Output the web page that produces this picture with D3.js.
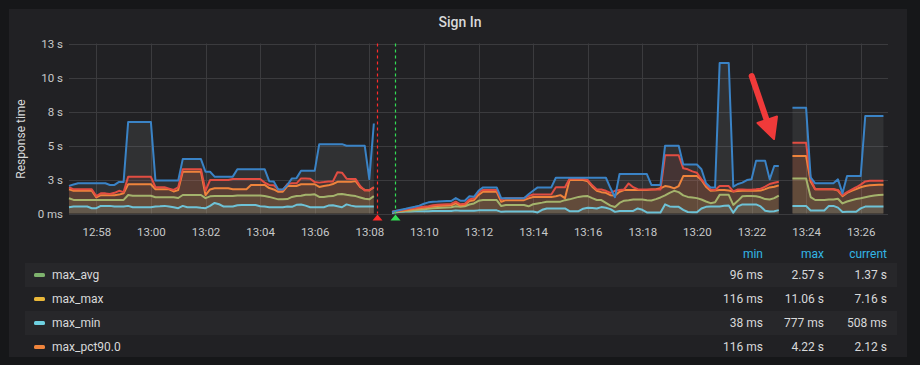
<!DOCTYPE html>
<html><head><meta charset="utf-8">
<script src="https://cdn.jsdelivr.net/npm/d3@7"></script>
<style>
html,body{margin:0;padding:0;background:#161719;}
svg{display:block;font-family:Roboto,"Noto Sans",sans-serif;}
</style></head><body>
<svg id="chart" width="920" height="365"></svg>
<script>
// ---------- data ----------
const title = "Sign In";
const yAxisLabel = "Response time";
const startTime = [12, 57, 0];      // first sample (hh, mm, ss)
const endTime = [13, 27, 0];        // right edge of the time axis
const stepSeconds = 10;             // sample spacing
const yTickValues = [0, 2.5, 5, 7.5, 10, 12.5];
const yTickLabels = ["0 ms", "3 s", "5 s", "8 s", "10 s", "13 s"];
const annotationTimes = [[13, 8, 18], [13, 8, 56]];

const maxMax = [2.03,2.13,2.22,2.22,2.22,2.22,2.22,2.22,2.22,2.1,
 2.1,2.32,2.32,6.72,6.72,6.72,6.72,6.72,6.72,2.42,
 2.42,2.42,2.42,2.42,2.42,4.0,4.0,4.0,4.0,4.0,
 3.07,3.07,2.71,2.71,2.71,2.71,2.71,3.26,3.26,3.26,
 3.26,3.26,3.26,3.26,2.38,2.36,1.77,1.77,2.1,2.58,
 2.6,3.14,3.14,3.14,3.14,5.1,5.1,5.1,5.1,5.1,
 5.1,4.98,4.98,4.98,4.98,4.98,2.53,6.62,null,null,
 null,0.116,0.2,0.28,0.35,0.43,0.5,0.58,0.72,0.82,
 0.87,0.88,0.9,0.92,0.92,1.13,0.94,0.94,1.27,1.23,
 1.67,1.92,1.92,1.92,1.92,1.12,1.12,1.12,1.12,1.12,
 1.12,1.42,1.67,1.92,1.92,1.92,1.92,2.63,2.63,2.63,
 2.63,2.63,2.63,2.63,2.63,2.63,2.63,2.63,2.63,1.87,
 1.2,2.9,2.9,2.9,2.9,2.9,2.9,2.9,2.1,2.1,
 2.1,4.98,4.98,4.98,4.98,3.6,3.6,3.6,3.6,3.25,
 2.22,1.92,1.92,11.06,11.06,11.06,1.97,2.17,2.27,2.46,
 2.51,3.87,3.87,3.87,2.51,3.49,3.49,null,null,7.77,
 7.77,7.77,7.77,2.66,2.22,2.22,2.22,2.22,2.22,2.51,
 1.48,2.76,2.76,2.76,2.76,7.16,7.16,7.16,7.16,7.16];

const maxUpper = [1.93,1.78,1.78,1.78,1.78,1.78,1.28,1.48,1.48,1.43,
 1.52,1.67,1.57,2.7,2.7,2.7,2.7,2.7,2.7,1.93,
 1.93,1.93,1.83,1.73,1.93,3.26,3.26,3.26,3.26,3.26,
 1.67,2.46,2.46,2.46,2.46,2.46,2.54,2.54,2.54,2.54,
 2.54,2.54,2.54,2.27,2.1,2.07,1.77,1.73,2.17,2.22,
 2.22,2.58,2.58,2.56,2.31,2.27,2.31,2.36,2.36,3.03,
 3.0,2.56,2.53,2.53,2.02,1.69,1.72,1.93,null,null,
 null,0.13,0.2,0.24,0.3,0.36,0.4,0.46,0.5,0.54,
 0.6,0.64,0.66,0.68,0.7,0.87,0.68,0.72,1.03,1.12,
 1.57,1.73,1.73,1.73,1.73,1.04,1.12,1.12,1.12,1.12,
 1.12,1.28,1.4,1.4,1.4,1.4,1.4,1.93,1.93,1.93,
 2.56,2.56,2.56,2.56,2.46,2.07,1.77,1.77,1.67,1.52,
 1.67,1.73,1.77,2.21,1.93,1.79,1.77,1.77,1.77,1.77,
 1.77,4.28,4.28,4.28,4.28,3.32,3.25,3.1,3.0,2.51,
 2.12,1.77,1.73,2.02,2.02,2.02,1.62,1.77,1.77,1.75,
 1.75,1.78,1.82,1.97,2.17,2.26,2.33,null,null,5.2,
 5.2,5.2,5.2,2.55,1.78,1.78,1.78,1.78,1.78,1.73,
 1.35,1.57,1.75,1.93,2.12,2.36,2.41,2.41,2.41,2.41];

const maxPct90 = [1.78,1.67,1.67,1.67,1.67,1.67,1.19,1.35,1.35,1.35,
 1.35,1.39,1.49,2.15,2.15,2.15,2.15,2.15,2.15,1.78,
 1.78,1.78,1.78,1.62,1.72,3.07,3.07,3.07,3.07,3.07,
 1.35,1.77,1.85,1.85,1.85,1.85,1.79,1.79,1.79,1.79,
 2.1,2.1,2.1,2.1,1.87,1.77,1.6,1.6,2.02,2.02,
 2.02,2.15,2.15,2.15,2.15,1.95,2.02,2.07,2.17,2.33,
 2.33,2.33,2.33,2.38,1.93,1.73,1.69,1.93,null,null,
 null,0.116,0.17,0.2,0.25,0.29,0.34,0.39,0.43,0.47,
 0.52,0.55,0.57,0.59,0.61,0.75,0.59,0.62,0.92,0.98,
 1.37,1.6,1.6,1.6,1.6,0.86,0.98,0.98,0.98,0.98,
 0.98,1.11,1.21,1.21,1.21,1.21,1.21,1.27,1.35,1.13,
 2.46,2.46,2.46,2.46,2.36,1.97,1.67,1.57,1.52,1.35,
 1.32,1.6,1.73,1.73,1.73,1.73,1.73,1.73,1.77,1.79,
 1.85,2.02,1.97,1.85,2.02,2.75,2.75,2.75,2.75,2.46,
 1.97,1.67,1.69,1.73,1.73,1.69,1.62,1.65,1.67,1.67,
 1.67,1.67,1.69,1.79,1.92,1.97,2.07,null,null,4.22,
 4.22,4.22,4.22,2.35,1.78,1.78,1.78,1.78,1.78,1.69,
 1.27,1.52,1.67,1.79,1.93,2.02,2.07,2.1,2.12,2.12];

const maxAvg = [1.12,1.0,1.0,1.0,1.0,1.0,1.0,1.0,1.0,1.0,
 1.0,1.0,1.0,1.36,1.3,1.3,1.3,1.3,1.3,1.19,
 1.19,1.19,1.19,1.19,1.14,1.36,1.36,1.36,1.36,1.36,
 1.13,1.26,1.28,1.28,1.28,1.28,1.28,1.32,1.32,1.32,
 1.32,1.32,1.32,1.28,1.22,1.13,1.04,1.04,1.06,1.22,
 1.28,1.3,1.38,1.38,1.41,1.22,1.22,1.26,1.28,1.41,
 1.44,1.38,1.33,1.28,1.18,1.08,1.04,1.28,null,null,
 null,0.096,0.12,0.14,0.18,0.21,0.24,0.28,0.32,0.35,
 0.38,0.41,0.43,0.45,0.46,0.53,0.5,0.53,0.66,0.74,
 0.93,0.99,0.99,0.99,0.99,0.55,0.62,0.62,0.62,0.62,
 0.62,0.53,0.68,0.74,0.8,0.87,0.87,0.87,0.87,0.98,
 1.04,1.13,1.22,1.26,1.28,1.13,0.99,0.99,0.78,0.58,
 0.48,0.78,0.94,0.98,1.03,1.03,1.03,0.98,0.96,1.06,
 1.18,1.33,1.52,1.67,1.57,1.33,1.22,1.18,1.13,1.03,
 0.88,0.76,0.83,1.37,1.37,1.37,0.63,0.93,1.27,1.29,
 1.29,1.27,1.19,1.06,1.03,1.13,1.32,null,null,2.57,
 2.57,2.57,2.57,1.21,0.99,1.0,1.0,1.03,1.03,1.08,
 0.74,0.88,0.98,1.06,1.12,1.2,1.27,1.32,1.36,1.37];

const maxMin = [0.46,0.51,0.51,0.51,0.51,0.39,0.39,0.56,0.56,0.56,
 0.51,0.51,0.51,0.56,0.46,0.46,0.46,0.46,0.46,0.51,
 0.53,0.56,0.51,0.46,0.39,0.56,0.46,0.46,0.46,0.42,
 0.39,0.56,0.777,0.68,0.51,0.51,0.51,0.6,0.62,0.62,
 0.62,0.62,0.53,0.51,0.46,0.46,0.46,0.46,0.51,0.49,
 0.64,0.66,0.58,0.46,0.46,0.46,0.46,0.58,0.6,0.53,
 0.46,0.67,0.58,0.51,0.51,0.51,0.51,0.51,null,null,
 null,0.04,0.1,0.12,0.14,0.15,0.16,0.16,0.17,0.17,
 0.18,0.18,0.18,0.18,0.18,0.23,0.2,0.2,0.2,0.2,
 0.23,0.23,0.23,0.23,0.23,0.12,0.15,0.15,0.15,0.15,
 0.15,0.15,0.15,0.08,0.27,0.37,0.37,0.37,0.37,0.37,
 0.17,0.17,0.17,0.35,0.42,0.4,0.37,0.47,0.42,0.32,
 0.12,0.19,0.19,0.19,0.19,0.37,0.27,0.08,0.08,0.08,
 0.08,0.67,0.52,0.49,0.49,0.27,0.11,0.09,0.09,0.37,
 0.49,0.52,0.52,0.52,0.57,0.59,0.06,0.52,0.67,0.67,
 0.67,0.67,0.52,0.21,0.15,0.17,0.25,null,null,0.56,
 0.56,0.56,0.56,0.22,0.22,0.22,0.22,0.56,0.56,0.43,
 0.11,0.13,0.13,0.13,0.38,0.51,0.51,0.51,0.51,0.508];

const legendNames = ["max_avg", "max_max", "max_min", "max_pct90.0"];
const legendColors = ["#7eb26d", "#eab839", "#6ed0e0", "#ef843c"];
const legendMin = ["96 ms", "116 ms", "38 ms", "116 ms"];
const legendMax = ["2.57 s", "11.06 s", "777 ms", "4.22 s"];
const legendCurrent = ["1.37 s", "7.16 s", "508 ms", "2.12 s"];
const legendHeaders = ["min", "max", "current"];

// ---------- drawing ----------
(function () {
const W = 920, H = 365;
const svg = d3.select("#chart");
svg.append("rect").attr("width", W).attr("height", H).attr("fill", "#161719");
svg.append("rect").attr("x", 9).attr("y", 9).attr("width", 898).attr("height", 348).attr("fill", "#212124");

const mkDate = a => new Date(2019, 0, 1, a[0], a[1], a[2]);
const t0 = mkDate(startTime);
const times = maxMax.map((_, i) => new Date(t0.getTime() + i * stepSeconds * 1000));

const pL = 69, pR = 888, pT = 43.5, pB = 213.5;
const x = d3.scaleTime().domain([t0, mkDate(endTime)]).range([pL, pR]);
const y = d3.scaleLinear().domain([0, 12.5]).range([pB, pT]);

// title
svg.append("text").attr("x", 460).attr("y", 27).attr("text-anchor", "middle")
  .attr("fill", "#d8d9da").attr("font-size", 14).attr("font-weight", 500).text(title);

// grid
const grid = svg.append("g").attr("stroke", "#3b3b3e").attr("stroke-width", 1);
const xTicks = x.ticks(d3.timeMinute.every(2));
grid.selectAll("line.h").data(yTickValues).join("line").attr("class", "h")
  .attr("x1", pL).attr("x2", pR)
  .attr("y1", d => Math.round(y(d)) + 0.5).attr("y2", d => Math.round(y(d)) + 0.5);
grid.selectAll("line.v").data(xTicks).join("line").attr("class", "v")
  .attr("x1", d => Math.round(x(d)) + 0.5).attr("x2", d => Math.round(x(d)) + 0.5)
  .attr("y1", pT).attr("y2", pB);

// axes labels
const yAxis = d3.axisLeft(y).tickValues(yTickValues).tickFormat((d, i) => yTickLabels[i]).tickSize(0).tickPadding(6);
const gy = svg.append("g").attr("transform", `translate(${pL},0)`).call(yAxis);
const xAxis = d3.axisBottom(x).ticks(d3.timeMinute.every(2)).tickFormat(d3.timeFormat("%H:%M")).tickSize(0).tickPadding(12);
const gx = svg.append("g").attr("transform", `translate(0,${pB + 2})`).call(xAxis);
[gx, gy].forEach(g => {
  g.select(".domain").remove();
  g.selectAll("text").attr("fill", "#c8c9ca").attr("font-size", 11.5).attr("font-family", "Roboto, sans-serif");
});

svg.append("text").attr("transform", "translate(25,139) rotate(-90)").attr("text-anchor", "middle")
  .attr("fill", "#d8d9da").attr("font-size", 12).text(yAxisLabel);

// series (line colour, fill colour)
const series = [
  {values: maxMin, color: "#6ec2d6", fill: "#6ec2d6"},
  {values: maxAvg, color: "#a4b36c", fill: "#a4b36c"},
  {values: maxPct90, color: "#ef843c", fill: "#ef843c"},
  {values: maxUpper, color: "#e24d42", fill: "#e24d42"},
  {values: maxMax, color: "#3a83c6", fill: "#9aa3a8"}
];
const area = d3.area().defined(d => d.v != null).x(d => x(d.t)).y0(y(0)).y1(d => y(d.v));
const line = d3.line().defined(d => d.v != null).x(d => x(d.t)).y(d => y(d.v));
const pts = s => s.values.map((v, i) => ({t: times[i], v}));
const gArea = svg.append("g");
const gLine = svg.append("g");
series.slice().reverse().forEach(s => {
  gArea.append("path").attr("d", area(pts(s))).attr("fill", s.fill).attr("fill-opacity", 0.12);
});
series.forEach(s => {
  gLine.append("path").attr("d", line(pts(s))).attr("fill", "none").attr("stroke", s.color)
    .attr("stroke-width", 2).attr("stroke-linejoin", "round");
});

// annotations
const annColors = ["#ff2b2b", "#33dd55"];
annotationTimes.forEach((a, i) => {
  const ax = Math.round(x(mkDate(a))) + 0.5;
  svg.append("path").attr("d", `M${ax},${pT}V${pB}`)
    .attr("fill", "none").attr("stroke", annColors[i]).attr("stroke-width", 1.2)
    .attr("stroke-dasharray", "3,3");
  svg.append("path").attr("d", `M${ax - 5},${pB + 7}L${ax + 5},${pB + 7}L${ax},${pB + 1}Z`)
    .attr("fill", annColors[i]);
});

// red callout arrow (screenshot markup)
svg.append("line").attr("x1", 751.7).attr("y1", 76).attr("x2", 767).attr("y2", 121)
  .attr("stroke", "#f03a3a").attr("stroke-width", 6).attr("stroke-linecap", "round");
svg.append("path").attr("d", "M774,139L757.5,123L777,116.5Z").attr("fill", "#f03a3a")
  .attr("stroke", "#f03a3a").attr("stroke-width", 2).attr("stroke-linejoin", "round");

// legend
const rowY = [275, 299, 323, 347];
const colX = [763, 824, 887];
const lg = svg.append("g").attr("font-size", 12);
[0, 2].forEach(i => lg.append("rect").attr("x", 25).attr("y", rowY[i] - 12).attr("width", 872).attr("height", 24).attr("fill", "#27272a"));
legendHeaders.forEach((h, j) => lg.append("text").attr("x", colX[j]).attr("y", 258).attr("text-anchor", "end")
  .attr("fill", "#33b5e5").text(h));
legendNames.forEach((n, i) => {
  lg.append("rect").attr("x", 34).attr("y", rowY[i] - 2).attr("width", 11).attr("height", 4).attr("rx", 1.5).attr("fill", legendColors[i]);
  lg.append("text").attr("x", 52).attr("y", rowY[i] + 4).attr("fill", "#d8d9da").text(n);
  [legendMin[i], legendMax[i], legendCurrent[i]].forEach((v, j) =>
    lg.append("text").attr("x", colX[j]).attr("y", rowY[i] + 4).attr("text-anchor", "end").attr("fill", "#d8d9da").text(v));
});
})();
</script></body></html>
